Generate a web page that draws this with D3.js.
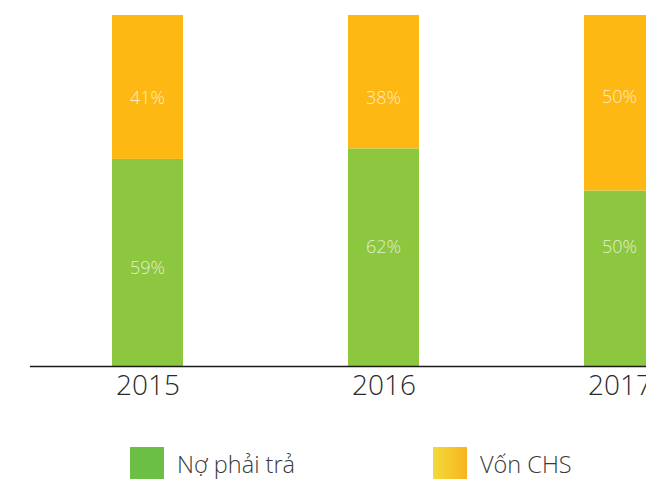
<!DOCTYPE html>
<html>
<head>
<meta charset="utf-8">
<script src="https://cdn.jsdelivr.net/npm/d3@7"></script>
<style>
  html, body { margin: 0; padding: 0; background: #fff; }
  svg { display: block; font-family: "Open Sans", sans-serif; }
</style>
</head>
<body>
<svg id="chart" width="646" height="479"></svg>
<script>
const years = ["2015", "2016", "2017"];
const noPhaiTra = [59, 62, 50];
const vonCHS = [41, 38, 50];
const seriesNames = ["Nợ phải trả", "Vốn CHS"];

// where the % text sits inside each bar, in share of bar height (layout only)
const labelAtNo = [0.28, 0.34, 0.34];
const labelAtVon = [0.765, 0.765, 0.768];

const COLORS = { no: "#8dc63f", von: "#fdb813" };

const svg = d3.select("#chart");

const x = d3.scalePoint().domain(years).range([147.5, 619.5]);
const y = d3.scaleLinear().domain([0, 100]).range([366, 15]);
const barW = 71;

const rows = years.map((yr, i) => ({ year: yr, no: noPhaiTra[i], von: vonCHS[i], i }));
const stack = d3.stack().keys(["no", "von"])(rows);

// Bars
svg.append("g")
  .selectAll("g")
  .data(stack)
  .join("g")
  .attr("fill", (d) => COLORS[d.key])
  .selectAll("rect")
  .data((d) => d)
  .join("rect")
  .attr("x", (d) => x(d.data.year) - barW / 2)
  .attr("y", (d) => y(d[1]))
  .attr("width", barW)
  .attr("height", (d) => y(d[0]) - y(d[1]));

// Percent labels
const labels = svg.append("g")
  .attr("fill", "#fff")
  .attr("fill-opacity", 0.75)
  .attr("font-size", 18)
  .attr("font-weight", 300)
  .attr("text-anchor", "middle");

rows.forEach((d) => {
  labels.append("text")
    .attr("x", x(d.year))
    .attr("y", y(labelAtNo[d.i] * 100) + 6.5)
    .text(d.no + "%");
  labels.append("text")
    .attr("x", x(d.year))
    .attr("y", y(labelAtVon[d.i] * 100) + 6.5)
    .text(d.von + "%");
});

// Baseline
svg.append("line")
  .attr("x1", 30).attr("x2", 646)
  .attr("y1", y(0) + 0.5).attr("y2", y(0) + 0.5)
  .attr("stroke", "#1a1a1a")
  .attr("stroke-width", 1.3);

// Year axis
const axis = svg.append("g")
  .attr("transform", `translate(0,${y(0)})`)
  .call(d3.axisBottom(x).tickSize(0).tickPadding(9));
axis.select(".domain").remove();
axis.selectAll("text")
  .attr("font-family", "Open Sans, sans-serif")
  .attr("font-size", 28)
  .attr("font-weight", 300)
  .attr("fill", "#2a2a2a");

// Legend
const defs = svg.append("defs");
const grad = defs.append("linearGradient").attr("id", "vonGrad");
grad.append("stop").attr("offset", "0%").attr("stop-color", "#f2da3c");
grad.append("stop").attr("offset", "100%").attr("stop-color", "#f8b41c");

const legend = [
  { name: seriesNames[0], fill: "#6bbf45", x: 130 },
  { name: seriesNames[1], fill: "url(#vonGrad)", x: 433 },
];

const lg = svg.append("g")
  .selectAll("g")
  .data(legend)
  .join("g")
  .attr("transform", (d) => `translate(${d.x},447)`);

lg.append("rect")
  .attr("width", 34)
  .attr("height", 34)
  .attr("fill", (d) => d.fill);

lg.append("text")
  .attr("x", 47)
  .attr("y", 26)
  .attr("font-size", 23.5)
  .attr("font-weight", 300)
  .attr("fill", "#3a3a3a")
  .text((d) => d.name);
</script>
</body>
</html>
